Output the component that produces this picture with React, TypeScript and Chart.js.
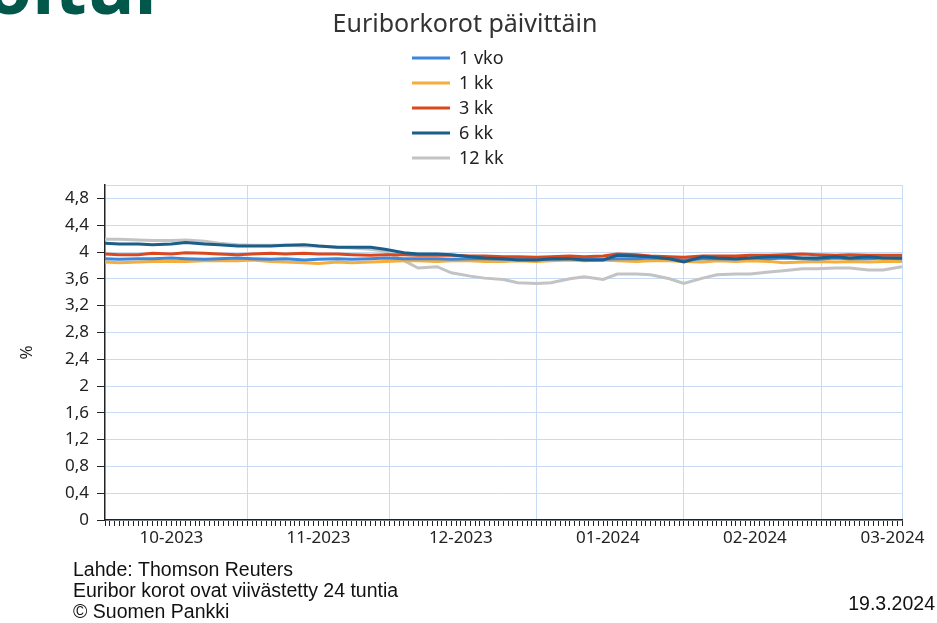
import React, { useEffect, useRef } from 'react';
import { Chart, registerables } from 'chart.js';

Chart.register(...registerables);

const CHART_TITLE = 'Euriborkorot päivittäin';
const HEADING_FRAGMENT = 'oitui';
const SERIES_NAMES = ['1 vko', '1 kk', '3 kk', '6 kk', '12 kk'];
const SERIES_COLORS = ['#3b87df', '#f5ad3b', '#db481d', '#1b5e8a', '#c3c3c3'];
const SERIES_ORDER = [2, 3, 1, 0, 4];

const AXIS_START = '2023-10-02';
const AXIS_END = '2024-03-18';
const MONTH_STARTS = ['2023-11-01', '2023-12-01', '2024-01-01', '2024-02-01', '2024-03-01'];
const MONTH_LABEL_DATES = ['2023-10-16', '2023-11-16', '2023-12-16', '2024-01-16', '2024-02-16', '2024-03-16'];
const MONTH_LABELS = ['10-2023', '11-2023', '12-2023', '01-2024', '02-2024', '03-2024'];
const Y_TICKS = [0, 0.4, 0.8, 1.2, 1.6, 2, 2.4, 2.8, 3.2, 3.6, 4, 4.4, 4.8, 5];
const Y_LABEL = '%';

const DATES = [
  '2023-10-02', '2023-10-05', '2023-10-09', '2023-10-12', '2023-10-16', '2023-10-19', '2023-10-23', '2023-10-26', '2023-10-30',
  '2023-11-02', '2023-11-06', '2023-11-09', '2023-11-13', '2023-11-16', '2023-11-20', '2023-11-23', '2023-11-27', '2023-11-30',
  '2023-12-04', '2023-12-07', '2023-12-11', '2023-12-14', '2023-12-18', '2023-12-21', '2023-12-25', '2023-12-28',
  '2024-01-01', '2024-01-04', '2024-01-08', '2024-01-11', '2024-01-15', '2024-01-18', '2024-01-22', '2024-01-25', '2024-01-29',
  '2024-02-01', '2024-02-05', '2024-02-08', '2024-02-12', '2024-02-15', '2024-02-19', '2024-02-22', '2024-02-26', '2024-02-29',
  '2024-03-04', '2024-03-07', '2024-03-11', '2024-03-14', '2024-03-18',
];

const VKO_1 = [
  3.90, 3.89, 3.90, 3.90, 3.91, 3.90, 3.89, 3.90, 3.91,
  3.90, 3.89, 3.90, 3.88, 3.89, 3.90, 3.89, 3.90, 3.91,
  3.90, 3.90, 3.90, 3.89, 3.90, 3.90, 3.89, 3.90,
  3.90, 3.89, 3.90, 3.90, 3.89, 3.90, 3.90, 3.91, 3.90,
  3.88, 3.90, 3.90, 3.89, 3.91, 3.90, 3.91, 3.90, 3.89,
  3.91, 3.90, 3.90, 3.91, 3.90,
];
const KK_1 = [
  3.85, 3.84, 3.85, 3.86, 3.86, 3.86, 3.87, 3.87, 3.87,
  3.88, 3.86, 3.85, 3.84, 3.83, 3.85, 3.84, 3.85, 3.86,
  3.87, 3.87, 3.86, 3.87, 3.87, 3.86, 3.86, 3.87,
  3.86, 3.87, 3.88, 3.87, 3.88, 3.87, 3.86, 3.87, 3.87,
  3.86, 3.85, 3.87, 3.86, 3.87, 3.86, 3.84, 3.85, 3.86,
  3.85, 3.86, 3.85, 3.86, 3.86,
];
const KK_3 = [
  3.97, 3.96, 3.96, 3.98, 3.97, 3.99, 3.98, 3.97, 3.96,
  3.97, 3.98, 3.97, 3.98, 3.97, 3.97, 3.96, 3.95, 3.96,
  3.96, 3.95, 3.95, 3.95, 3.94, 3.94, 3.93, 3.93,
  3.92, 3.93, 3.94, 3.93, 3.94, 3.97, 3.96, 3.94, 3.93,
  3.92, 3.94, 3.94, 3.94, 3.95, 3.95, 3.96, 3.97, 3.96,
  3.95, 3.96, 3.95, 3.95, 3.95,
];
const KK_6 = [
  4.13, 4.12, 4.12, 4.11, 4.12, 4.14, 4.12, 4.11, 4.09,
  4.09, 4.09, 4.10, 4.11, 4.09, 4.07, 4.07, 4.07, 4.04,
  3.99, 3.97, 3.97, 3.96, 3.93, 3.91, 3.90, 3.88,
  3.88, 3.90, 3.90, 3.88, 3.88, 3.95, 3.94, 3.93, 3.90,
  3.85, 3.93, 3.91, 3.90, 3.91, 3.93, 3.93, 3.91, 3.91,
  3.93, 3.91, 3.93, 3.91, 3.91,
];
const KK_12 = [
  4.19, 4.19, 4.18, 4.17, 4.17, 4.18, 4.16, 4.13, 4.11,
  4.10, 4.10, 4.10, 4.09, 4.09, 4.07, 4.06, 4.04, 4.01,
  3.87, 3.76, 3.78, 3.69, 3.64, 3.61, 3.59, 3.54,
  3.53, 3.54, 3.60, 3.63, 3.59, 3.67, 3.67, 3.66, 3.60,
  3.53, 3.61, 3.66, 3.67, 3.67, 3.70, 3.72, 3.75, 3.75,
  3.76, 3.76, 3.73, 3.73, 3.78,
];
const SERIES_VALUES = [VKO_1, KK_1, KK_3, KK_6, KK_12];

const FOOTER_LINES = ['Lahde: Thomson Reuters', 'Euribor korot ovat viivästetty 24 tuntia', '\u00A9 Suomen Pankki'];
const FOOTER_DATE = '19.3.2024';

const EPOCH = Date.UTC(2023, 9, 1);
const dayIndex = (iso: string) => {
  const [y, m, d] = iso.split('-').map(Number);
  return Math.round((Date.UTC(y, m - 1, d) - EPOCH) / 86400000);
};

const FONT = '"Noto Sans", "Open Sans", sans-serif';
const GRID = '#c8dbf3';
const INK = '#222222';

export default function App() {
  const ref = useRef<HTMLCanvasElement | null>(null);

  useEffect(() => {
    if (!ref.current) return;
    const xMin = dayIndex(AXIS_START);
    const xMax = dayIndex(AXIS_END);
    const monthStartIdx = MONTH_STARTS.map(dayIndex);
    const dayTicks: number[] = [];
    for (let d = xMin; d <= xMax; d++) dayTicks.push(d);

    const overlay = {
      id: 'overlay',
      afterDraw(chart: any) {
        const ctx = chart.ctx as CanvasRenderingContext2D;
        ctx.save();
        // heading fragment cut at the top
        ctx.fillStyle = '#00574a';
        ctx.font = `bold 74px ${FONT}`;
        ctx.textAlign = 'left';
        ctx.textBaseline = 'alphabetic';
        ctx.fillText(HEADING_FRAGMENT, -14, 14);
        // title
        ctx.fillStyle = '#333333';
        ctx.font = `25px ${FONT}`;
        ctx.textAlign = 'center';
        ctx.textBaseline = 'middle';
        ctx.fillText(CHART_TITLE, 465, 25);
        // legend
        ctx.font = `18px ${FONT}`;
        ctx.textAlign = 'left';
        chart.data.datasets.forEach((ds: any, i: number) => {
          const y = 58 + i * 25;
          ctx.strokeStyle = ds.borderColor;
          ctx.lineWidth = 3;
          ctx.beginPath();
          ctx.moveTo(412, y);
          ctx.lineTo(450, y);
          ctx.stroke();
          ctx.fillStyle = INK;
          ctx.fillText(ds.label, 459, y + 1);
        });
        // month labels
        const xs = chart.scales.x;
        ctx.font = `17px ${FONT}`;
        ctx.textAlign = 'center';
        ctx.textBaseline = 'middle';
        ctx.fillStyle = INK;
        MONTH_LABEL_DATES.forEach((d, i) => {
          ctx.fillText(MONTH_LABELS[i], xs.getPixelForValue(dayIndex(d)), 538);
        });
        // footer
        ctx.font = `19.5px "Liberation Sans", Arial, sans-serif`;
        ctx.textAlign = 'left';
        ctx.fillStyle = '#111111';
        FOOTER_LINES.forEach((t, i) => ctx.fillText(t, 73, 571 + i * 21));
        ctx.textAlign = 'right';
        ctx.fillText(FOOTER_DATE, 935, 605);
        ctx.restore();
      },
    };

    const chart = new Chart(ref.current, {
      type: 'line',
      data: {
        datasets: SERIES_NAMES.map((name, i) => ({
          label: name,
          data: DATES.map((d, j) => ({ x: dayIndex(d), y: SERIES_VALUES[i][j] })),
          borderColor: SERIES_COLORS[i],
          backgroundColor: SERIES_COLORS[i],
          borderWidth: 3,
          pointRadius: 0,
          tension: 0,
          fill: false,
          order: SERIES_ORDER[i],
        })),
      },
      options: {
        responsive: false,
        animation: false,
        events: [],
        layout: { padding: { left: 0, right: 35, top: 185, bottom: 0 } },
        plugins: {
          legend: { display: false },
          title: { display: false },
          tooltip: { enabled: false },
        },
        scales: {
          x: {
            type: 'linear',
            min: xMin,
            max: xMax,
            afterBuildTicks: (s: any) => { s.ticks = dayTicks.map((v) => ({ value: v })); },
            afterFit: (s: any) => { s.height = 103; },
            grid: {
              drawOnChartArea: true,
              color: (c: any) => {
                const v = c.tick ? c.tick.value : null;
                return v !== null && (monthStartIdx.includes(v) || v === xMax) ? GRID : 'rgba(0,0,0,0)';
              },
              tickColor: '#222222',
              tickLength: 6,
              lineWidth: 1,
            },
            border: { display: true, color: INK, width: 1.5 },
            ticks: {
              autoSkip: false,
              maxRotation: 0,
              minRotation: 0,
              callback: () => '',
            },
          },
          y: {
            min: 0,
            max: 5,
            afterBuildTicks: (s: any) => { s.ticks = Y_TICKS.map((v) => ({ value: v })); },
            afterFit: (s: any) => { s.width = 105; },
            grid: {
              color: GRID,
              tickColor: (c: any) => (c.tick && c.tick.value === 5 ? 'rgba(0,0,0,0)' : '#222222'),
              tickLength: 8,
              lineWidth: 1,
            },
            border: { display: true, color: INK, width: 1.5 },
            ticks: {
              color: INK,
              padding: 8,
              font: { family: FONT, size: 17 },
              callback: (v: any) => {
                const n = Number(v);
                if (n === 5) return '';
                return Number.isInteger(n) ? String(n) : n.toFixed(1).replace('.', ',');
              },
            },
            title: {
              display: true,
              text: Y_LABEL,
              color: INK,
              font: { family: FONT, size: 17 },
              padding: { top: 17, bottom: 0 },
            },
          },
        },
      },
      plugins: [overlay],
    });
    return () => chart.destroy();
  }, []);

  return (
    <div style={{ position: 'fixed', left: 0, top: 0, width: 937, height: 623, background: '#ffffff' }}>
      <canvas ref={ref} width={937} height={623} style={{ display: 'block' }} />
    </div>
  );
}
